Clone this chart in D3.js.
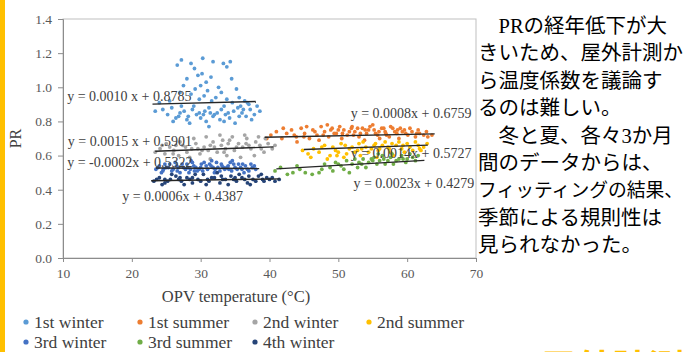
<!DOCTYPE html>
<html>
<head>
<meta charset="utf-8">
<script src="https://cdn.jsdelivr.net/npm/d3@7"></script>
<style>
  body { margin: 0; background: #fff; }
  svg { display: block; }
</style>
</head>
<body>
<script>
// series, in excel draw order
const seriesNames = ["1st winter", "1st summer", "2nd winter", "2nd summer", "3rd winter", "3rd summer", "4th winter"];
const seriesColors = ["#5B9BD5", "#ED7D31", "#A5A5A5", "#FFC000", "#4472C4", "#70AD47", "#264478"];

const winter1 = [
  [27.2,1.16],[28.6,1.14],[30.3,1.17],[31.8,1.15],[33.3,1.14],[34.3,1.15],[29.1,1.11],[33.8,1.12],[26.6,1.13],
  [28.0,1.05],[29.6,1.07],[30.2,1.08],[31.5,1.06],[30.8,1.03],[27.5,1.01],[32.6,1.00],[34.5,1.05],[29.2,0.99],
  [31.0,0.98],[33.0,0.97],[35.2,0.99],[28.6,0.96],[30.0,1.01],[27.0,0.97],
  [30.5,0.95],[32.2,0.94],[33.8,0.93],[35.6,0.94],[36.4,0.92],[29.8,0.93],[31.6,0.92],[34.6,0.91],[37.0,0.90],[38.2,0.89],
  [24.5,0.87],[25.2,0.84],[25.8,0.88],[26.4,0.82],[27.0,0.85],[27.6,0.86],[28.2,0.83],[28.8,0.87],[29.4,0.84],
  [30.0,0.82],[30.6,0.86],[31.2,0.88],[31.8,0.83],[32.4,0.85],[33.0,0.87],[33.6,0.84],[34.2,0.82],[34.8,0.86],
  [35.4,0.88],[36.0,0.85],[36.6,0.83],[37.2,0.87],[37.8,0.84],[38.6,0.86],[26.0,0.80],[28.4,0.79],[30.8,0.80],
  [32.8,0.81],[35.0,0.79],[37.4,0.81],[29.0,0.89],[31.4,0.85],[33.4,0.89],[35.8,0.89],[27.2,0.89],[24.0,0.91],
  [25.5,0.92],[36.8,0.91],[31.2,0.77],[33.4,0.80],[23.4,0.86],[26.8,0.83],[29.8,0.85],[32.0,0.84],[34.0,0.85],
  [36.2,0.87],[28.0,0.81],[30.4,0.84],[35.6,0.83]
];
const summer1 = [
  [40.2,0.72],[41.0,0.74],[41.8,0.70],[42.5,0.73],[43.2,0.75],[43.9,0.71],[44.6,0.76],[45.1,0.73],[45.8,0.70],
  [46.3,0.75],[46.9,0.72],[47.5,0.77],[48.0,0.74],[48.6,0.71],[49.1,0.76],[49.7,0.73],[50.2,0.77],[50.8,0.75],
  [51.3,0.72],[51.9,0.76],[52.4,0.74],[53.0,0.71],[53.5,0.76],[54.1,0.73],[54.6,0.77],[55.2,0.75],[55.7,0.72],
  [56.3,0.76],[56.8,0.74],[57.4,0.71],[57.9,0.76],[58.5,0.73],[59.0,0.76],[59.6,0.75],[60.1,0.72],[60.7,0.74],
  [61.2,0.71],[61.8,0.73],[62.4,0.72],[63.0,0.71],[63.6,0.72],[44.0,0.68],[47.2,0.69],[50.5,0.70],[53.8,0.69],
  [56.0,0.70],[58.8,0.70],[42.0,0.76],[45.4,0.77],[48.4,0.78],[52.0,0.77],[55.0,0.78],[57.6,0.77],[60.4,0.76],
  [49.4,0.73],[51.6,0.74],[54.4,0.75],[56.6,0.76],[58.2,0.74],[46.6,0.74],[52.8,0.76],[55.4,0.73],[59.8,0.73],
  [61.6,0.75],[62.8,0.74],[39.6,0.70],[43.6,0.72],[57.0,0.72],[53.2,0.73],[50.0,0.75],[47.8,0.72],[50.6,0.73],
  [53.9,0.75],[56.9,0.73],[59.3,0.74],[61.4,0.73],[45.0,0.71],[48.9,0.75],[52.2,0.72],[55.9,0.74],[58.6,0.75]
];
const winter2 = [
  [23.4,0.62],[24.1,0.64],[24.8,0.61],[25.5,0.65],[26.1,0.63],[26.8,0.60],[27.4,0.66],[28.0,0.62],[28.7,0.64],
  [29.3,0.67],[29.9,0.61],[30.5,0.65],[31.1,0.63],[31.8,0.68],[32.4,0.62],[33.0,0.66],[33.6,0.64],[34.2,0.69],
  [34.9,0.63],[35.5,0.67],[36.1,0.65],[36.7,0.70],[37.3,0.64],[38.0,0.68],[38.6,0.66],[39.2,0.62],[39.8,0.67],
  [40.4,0.64],[25.0,0.67],[27.0,0.68],[29.0,0.70],[30.8,0.71],[32.8,0.72],[34.6,0.71],[36.4,0.72],[38.4,0.71],
  [28.4,0.59],[31.4,0.58],[33.8,0.60],[35.8,0.59],[37.8,0.60],[26.4,0.66],[30.2,0.63],[32.0,0.65],[35.2,0.65],
  [37.0,0.66],[39.4,0.70],[40.8,0.66],[24.4,0.66],[33.2,0.69],[27.8,0.65],[29.6,0.64],[31.4,0.66],[34.0,0.67],
  [36.6,0.67],[38.8,0.64],[26.0,0.61],[33.4,0.62]
];
const summer2 = [
  [44.8,0.63],[45.6,0.61],[46.4,0.64],[47.2,0.62],[48.0,0.66],[48.8,0.60],[49.6,0.63],[50.4,0.67],[51.2,0.61],
  [52.0,0.65],[52.8,0.63],[53.6,0.68],[54.4,0.62],[55.2,0.66],[56.0,0.64],[56.8,0.68],[57.6,0.62],[58.4,0.66],
  [59.2,0.64],[60.0,0.67],[60.8,0.63],[61.6,0.66],[62.4,0.65],[62.9,0.67],[46.0,0.59],[48.4,0.58],[50.8,0.59],
  [53.2,0.60],[55.6,0.59],[58.0,0.60],[49.2,0.65],[51.6,0.64],[54.0,0.65],[56.4,0.66],[58.8,0.68],[61.2,0.68],
  [53.0,0.67],[55.8,0.63],[57.2,0.65],[59.6,0.62],[50.0,0.62],[47.6,0.65],[52.4,0.62],[60.4,0.65],[62.0,0.63],
  [54.8,0.64],[57.8,0.67],[51.0,0.66],[53.4,0.64],[55.4,0.67],[57.4,0.64],[59.4,0.66],[61.8,0.64],[49.8,0.60]
];
const winter3 = [
  [23.5,0.52],[24.0,0.54],[24.5,0.51],[25.0,0.53],[25.5,0.55],[26.0,0.52],[26.5,0.54],[27.0,0.50],[27.5,0.53],
  [28.0,0.55],[28.5,0.52],[29.0,0.54],[29.5,0.51],[30.0,0.53],[30.5,0.56],[31.0,0.52],[31.5,0.54],[32.0,0.50],
  [32.5,0.53],[33.0,0.55],[33.5,0.52],[34.0,0.54],[34.5,0.51],[35.0,0.53],[35.5,0.55],[36.0,0.52],[36.5,0.54],
  [37.0,0.51],[37.5,0.53],[38.0,0.52],[23.8,0.53],[24.8,0.55],[25.8,0.51],[26.8,0.53],[27.8,0.52],[28.8,0.56],
  [29.8,0.52],[30.8,0.54],[31.8,0.53],[32.8,0.51],[33.8,0.53],[34.8,0.55],[35.8,0.53],[36.8,0.52],[37.8,0.54],
  [24.3,0.50],[26.3,0.56],[28.3,0.50],[30.3,0.51],[32.3,0.56],[34.3,0.56],[36.3,0.50],[25.3,0.53],[27.3,0.55],
  [29.3,0.53],[31.3,0.55],[33.3,0.53],[35.3,0.52],[37.3,0.55],[28.6,0.57],[31.6,0.57],[34.6,0.57],[24.6,0.52],
  [26.6,0.51],[28.1,0.53],[30.1,0.55],[32.1,0.52],[34.1,0.52],[36.1,0.55],[29.1,0.51],[33.1,0.54]
];
const summer3 = [
  [40.8,0.51],[41.6,0.53],[42.6,0.49],[43.4,0.50],[44.4,0.52],[45.2,0.50],[46.2,0.49],[47.2,0.50],[48.0,0.55],
  [48.8,0.53],[49.6,0.56],[50.4,0.54],[51.2,0.57],[52.0,0.55],[52.8,0.53],[53.6,0.58],[54.4,0.56],[55.2,0.59],
  [56.0,0.57],[56.8,0.55],[57.6,0.59],[58.4,0.57],[59.2,0.60],[60.0,0.58],[60.8,0.59],[61.6,0.60],[50.8,0.52],
  [53.0,0.56],[54.8,0.58],[56.4,0.60],[57.2,0.57],[58.8,0.58],[59.8,0.56],[55.6,0.55],[52.4,0.58],[49.2,0.51],
  [51.6,0.50],[54.0,0.53],[57.8,0.61],[60.4,0.61],[61.2,0.57],[58.0,0.55],[55.8,0.61],[47.6,0.52],[44.0,0.54],
  [53.4,0.55],[55.0,0.57],[56.6,0.58],[59.4,0.58],[50.0,0.55]
];
const winter4 = [
  [23.2,0.45],[24.0,0.47],[24.8,0.44],[25.6,0.46],[26.4,0.48],[27.2,0.45],[28.0,0.47],[28.8,0.44],[29.6,0.46],
  [30.4,0.49],[31.2,0.45],[32.0,0.47],[32.8,0.44],[33.6,0.46],[34.4,0.48],[35.2,0.45],[36.0,0.47],[36.8,0.44],
  [37.6,0.46],[38.4,0.48],[39.2,0.45],[40.0,0.46],[40.8,0.45],[41.4,0.46],[23.6,0.46],[25.2,0.45],[26.8,0.46],
  [28.4,0.46],[30.0,0.45],[31.6,0.47],[33.2,0.46],[34.8,0.46],[36.4,0.46],[38.0,0.45],[39.6,0.47],[24.4,0.43],
  [27.6,0.43],[30.8,0.43],[34.0,0.43],[37.2,0.43],[25.8,0.49],[29.2,0.49],[32.4,0.50],[35.6,0.49],[38.8,0.49],
  [27.0,0.47],[33.0,0.48],[37.0,0.48],[40.4,0.47],[24.8,0.46],[28.8,0.47],[31.0,0.46],[35.0,0.47],[39.0,0.46]
];
const seriesPoints = [winter1, summer1, winter2, summer2, winter3, summer3, winter4];

// linear trendlines as printed on the chart
const trendSlopes = [0.0010, 0.0008, 0.0015, 0.0014, -0.0002, 0.0023, 0.0006];
const trendIntercepts = [0.8785, 0.6759, 0.5901, 0.5727, 0.5322, 0.4279, 0.4387];
const trendFrom = [23.0, 39.3, 23.4, 45.0, 23.5, 41.0, 22.8];
const trendTo = [38.0, 64.0, 40.6, 63.0, 38.5, 62.5, 41.5];
const trendLabels = [
  "y = 0.0010 x + 0.8785", "y = 0.0008x + 0.6759", "y = 0.0015 x + 0.5901", "y = 0.0014x + 0.5727",
  "y = -0.0002x + 0.5322", "y = 0.0023x + 0.4279", "y = 0.0006x + 0.4387"
];
// label anchors in data units (text start, middle)
const labelAt = [[10.6, 0.945], [51.8, 0.845], [10.7, 0.685], [51.8, 0.615], [10.6, 0.557], [52.2, 0.434], [18.6, 0.363]];

const xTicks = [10, 20, 30, 40, 50, 60, 70];
const yTicks = [0, 0.2, 0.4, 0.6, 0.8, 1.0, 1.2, 1.4];

const noteLines = [
  "\u3000PRの経年低下が大",
  "きいため、屋外計測か",
  "ら温度係数を議論す",
  "るのは難しい。",
  "\u3000冬と夏、各々3か月",
  "間のデータからは、",
  "フィッティングの結果、",
  "季節による規則性は",
  "見られなかった。"
];

const w = 689, h = 352;
const serif = "'Liberation Serif', 'Times New Roman', serif";

const svg = d3.select("body")
  .append("svg")
  .attr("width", w)
  .attr("height", h);

// slide edge strip
svg.append("rect").attr("x", 0).attr("y", 0).attr("width", 5).attr("height", h).attr("fill", "#FFC000");

const x = d3.scaleLinear().domain([10, 70]).range([63, 476]);
const y = d3.scaleLinear().domain([0, 1.4]).range([258, 19]);

// plot frame
svg.append("rect")
  .attr("x", x(10)).attr("y", y(1.4))
  .attr("width", x(70) - x(10)).attr("height", y(0) - y(1.4))
  .attr("fill", "none").attr("stroke", "#BFBFBF");

const yAxis = svg.append("g")
  .attr("transform", `translate(${x(10)},0)`)
  .call(d3.axisLeft(y).tickValues(yTicks).tickFormat(d3.format(".1f")).tickSize(5).tickPadding(6));
const xAxis = svg.append("g")
  .attr("transform", `translate(0,${y(0)})`)
  .call(d3.axisBottom(x).tickValues(xTicks).tickSize(4).tickPadding(6));

[yAxis, xAxis].forEach(g => {
  g.select(".domain").attr("stroke", "#8C8C8C");
  g.selectAll(".tick line").attr("stroke", "#8C8C8C");
  g.selectAll(".tick text")
    .attr("fill", "#595959")
    .style("font-family", serif)
    .style("font-size", "13.5px");
});

svg.append("text")
  .attr("transform", `translate(15,${(y(0) + y(1.4)) / 2}) rotate(-90)`)
  .attr("text-anchor", "middle")
  .attr("dominant-baseline", "central")
  .attr("fill", "#404040")
  .style("font-family", serif)
  .style("font-size", "16px")
  .text("PR");

svg.append("text")
  .attr("x", 236).attr("y", 296)
  .attr("text-anchor", "middle")
  .attr("dominant-baseline", "central")
  .attr("fill", "#404040")
  .style("font-family", serif)
  .style("font-size", "16.5px")
  .text("OPV temperature (\u00B0C)");

// points
seriesPoints.forEach((pts, i) => {
  svg.append("g")
    .selectAll("circle")
    .data(pts)
    .enter()
    .append("circle")
    .attr("cx", d => x(d[0]))
    .attr("cy", d => y(d[1]))
    .attr("r", 1.9)
    .attr("fill", seriesColors[i]);
});

// trendlines
svg.append("g")
  .selectAll("line")
  .data(trendSlopes)
  .enter()
  .append("line")
  .attr("x1", (d, i) => x(trendFrom[i]))
  .attr("x2", (d, i) => x(trendTo[i]))
  .attr("y1", (d, i) => y(d * trendFrom[i] + trendIntercepts[i]))
  .attr("y2", (d, i) => y(d * trendTo[i] + trendIntercepts[i]))
  .attr("stroke", "#262626")
  .attr("stroke-width", 1.4);

svg.append("g")
  .selectAll("text")
  .data(trendLabels)
  .enter()
  .append("text")
  .attr("x", (d, i) => x(labelAt[i][0]))
  .attr("y", (d, i) => y(labelAt[i][1]))
  .attr("dominant-baseline", "central")
  .attr("fill", "#404040")
  .style("font-family", serif)
  .style("font-size", "14px")
  .text(d => d);

// legend, 4 + 3
const legendX = [26, 140, 255, 369];
const legend = svg.append("g")
  .selectAll("g")
  .data(seriesNames)
  .enter()
  .append("g")
  .attr("transform", (d, i) => `translate(${legendX[i % 4]},${i < 4 ? 322 : 342})`);
legend.append("circle").attr("r", 2.6).attr("fill", (d, i) => seriesColors[i]);
legend.append("text")
  .attr("x", 8)
  .attr("dominant-baseline", "central")
  .attr("fill", "#404040")
  .style("font-family", serif)
  .style("font-size", "17.5px")
  .text(d => d);

// slide text to the right of the chart
svg.append("g")
  .selectAll("text")
  .data(noteLines)
  .enter()
  .append("text")
  .attr("x", 478)
  .attr("y", (d, i) => 26 + i * 27.4)
  .attr("dominant-baseline", "central")
  .attr("fill", "#000")
  .style("font-family", "'Liberation Serif', 'Noto Sans CJK JP', sans-serif")
  // the 11-char line has narrow small kana in the original font, so shrink it to fit
  .style("font-size", d => d.length > 10 ? "18.8px" : "20.5px")
  .text(d => d);

svg.append("text")
  .attr("x", 540).attr("y", 381)
  .attr("fill", "#FFC000")
  .style("font-family", "'Noto Sans CJK JP', sans-serif")
  .style("font-weight", "bold")
  .style("font-size", "36px")
  .text("屋外計測");
</script>
</body>
</html>
